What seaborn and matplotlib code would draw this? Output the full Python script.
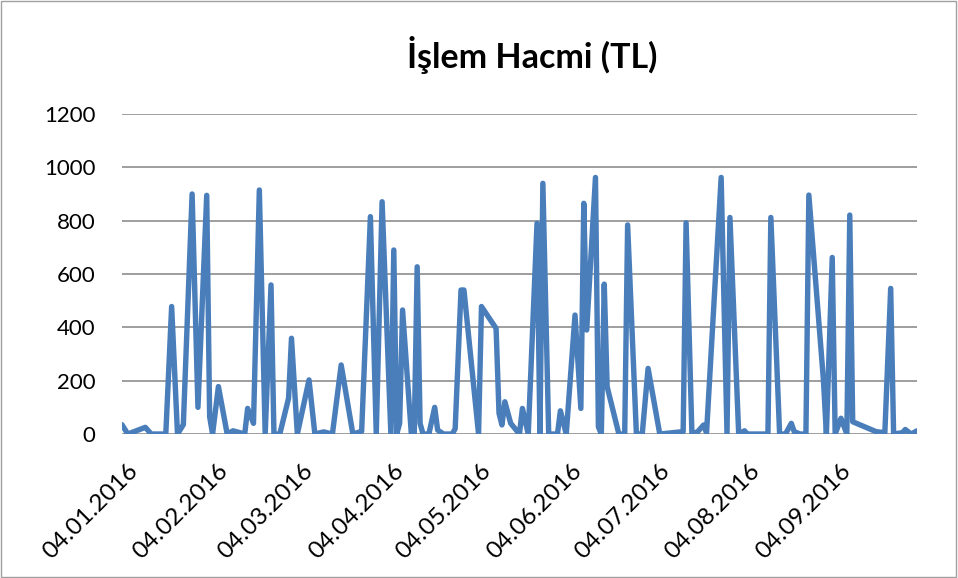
import pandas as pd
import seaborn as sns
import matplotlib.pyplot as plt
import matplotlib.dates as mdates
from matplotlib.patches import Rectangle
from matplotlib.transforms import ScaledTranslation

dates = [
    "04.01.2016", "06.01.2016", "12.01.2016", "14.01.2016", "19.01.2016",
    "21.01.2016", "23.01.2016", "25.01.2016", "28.01.2016", "30.01.2016",
    "02.02.2016", "03.02.2016", "04.02.2016", "06.02.2016", "09.02.2016",
    "11.02.2016", "15.02.2016", "16.02.2016", "18.02.2016", "20.02.2016",
    "22.02.2016", "24.02.2016", "25.02.2016", "27.02.2016", "01.03.2016",
    "02.03.2016", "04.03.2016", "08.03.2016", "10.03.2016", "13.03.2016",
    "16.03.2016", "19.03.2016", "23.03.2016", "26.03.2016", "29.03.2016",
    "31.03.2016", "02.04.2016", "05.04.2016", "06.04.2016", "07.04.2016",
    "08.04.2016", "09.04.2016", "12.04.2016", "13.04.2016", "14.04.2016",
    "15.04.2016", "16.04.2016", "18.04.2016", "20.04.2016", "21.04.2016",
    "23.04.2016", "26.04.2016", "27.04.2016", "29.04.2016", "30.04.2016",
    "05.05.2016", "06.05.2016", "11.05.2016", "12.05.2016", "13.05.2016",
    "14.05.2016", "16.05.2016", "19.05.2016", "20.05.2016", "22.05.2016",
    "25.05.2016", "26.05.2016", "27.05.2016", "29.05.2016", "01.06.2016",
    "02.06.2016", "04.06.2016", "07.06.2016", "09.06.2016", "10.06.2016",
    "11.06.2016", "14.06.2016", "15.06.2016", "16.06.2016", "17.06.2016",
    "18.06.2016", "22.06.2016", "24.06.2016", "25.06.2016", "28.06.2016",
    "30.06.2016", "02.07.2016", "06.07.2016", "14.07.2016", "15.07.2016",
    "17.07.2016", "19.07.2016", "21.07.2016", "22.07.2016", "27.07.2016",
    "29.07.2016", "30.07.2016", "02.08.2016", "04.08.2016", "05.08.2016",
    "12.08.2016", "13.08.2016", "16.08.2016", "18.08.2016", "20.08.2016",
    "21.08.2016", "23.08.2016", "25.08.2016", "26.08.2016", "31.08.2016",
    "01.09.2016", "03.09.2016", "04.09.2016", "06.09.2016", "08.09.2016",
    "09.09.2016", "10.09.2016", "18.09.2016", "21.09.2016", "23.09.2016",
    "24.09.2016", "27.09.2016", "28.09.2016", "30.09.2016", "02.10.2016",
]

volumes = [
    35, 0, 25, 0, 0,
    478, 0, 35, 900, 100,
    895, 65, 0, 178, 0,
    12, 0, 96, 40, 915,
    0, 559, 0, 0, 134,
    359, 0, 203, 0, 8,
    0, 259, 0, 10, 815,
    0, 871, 0, 690, 0,
    40, 465, 0, 0, 627,
    40, 0, 0, 100, 15,
    0, 0, 20, 540, 540,
    0, 478, 396, 78, 34,
    121, 40, 0, 96, 0,
    790, 0, 940, 0, 0,
    87, 0, 446, 96, 865,
    390, 962, 27, 0, 562,
    177, 0, 0, 784, 0,
    0, 246, 0, 9, 792,
    0, 9, 34, 5, 962,
    0, 812, 0, 12, 0,
    0, 812, 0, 0, 40,
    9, 0, 0, 896, 200,
    0, 662, 0, 59, 0,
    821, 46, 9, 5, 546,
    0, 5, 17, 0, 12,
]

title = "İşlem Hacmi (TL)"
y_ticks = [0, 200, 400, 600, 800, 1000, 1200]

df = pd.DataFrame({
    "tarih": pd.to_datetime(dates, format="%d.%m.%Y"),
    "hacim": volumes,
})

sns.set_theme(style="white")
plt.rcParams["font.family"] = ["Lato", "DejaVu Sans"]

fig = plt.figure(figsize=(9.58, 5.78), dpi=100)
ax = fig.add_axes([0.1273, 0.2491, 0.8299, 0.5537])

# gridlines first so the series sits on top
for v in y_ticks:
    ax.axhline(v, color="#969696", linewidth=1.3, zorder=1)

sns.lineplot(data=df, x="tarih", y="hacim", ax=ax, color="#4a7ebb",
             linewidth=3.9, estimator=None, zorder=3)
for line in ax.lines[-1:]:
    line.set_solid_joinstyle("round")
    line.set_solid_capstyle("round")

ax.set(xlabel="", ylabel="")
ax.set_ylim(0, 1200)
ax.set_yticks(y_ticks)
ax.set_xlim(df.tarih.min(), df.tarih.max())
ax.xaxis.set_major_locator(mdates.MonthLocator(bymonthday=4))
ax.xaxis.set_major_formatter(mdates.DateFormatter("%d.%m.%Y"))
ax.tick_params(axis="y", length=0, pad=19, labelsize=16, labelcolor="black")
ax.tick_params(axis="x", length=0, pad=19, labelsize=17.5, labelcolor="black")
shift = ScaledTranslation(5 / 100, 0, fig.dpi_scale_trans)
for lbl in ax.get_xticklabels():
    lbl.set_rotation(45)
    lbl.set_ha("right")
    lbl.set_va("top")
    lbl.set_rotation_mode("anchor")
    lbl.set_transform(lbl.get_transform() + shift)

for s in ax.spines.values():
    s.set_visible(False)
ax.set_facecolor("white")

fig.text(532 / 958, 1 - 55 / 578, title, ha="center", va="center",
         fontsize=24.5, fontweight="bold", color="black")

fig.patches.append(Rectangle((1 / 958, 1 / 578), 955 / 958, 576 / 578,
                             transform=fig.transFigure, fill=False,
                             edgecolor="#a0a0a0", linewidth=1))

fig.savefig("out.png", dpi=100)
